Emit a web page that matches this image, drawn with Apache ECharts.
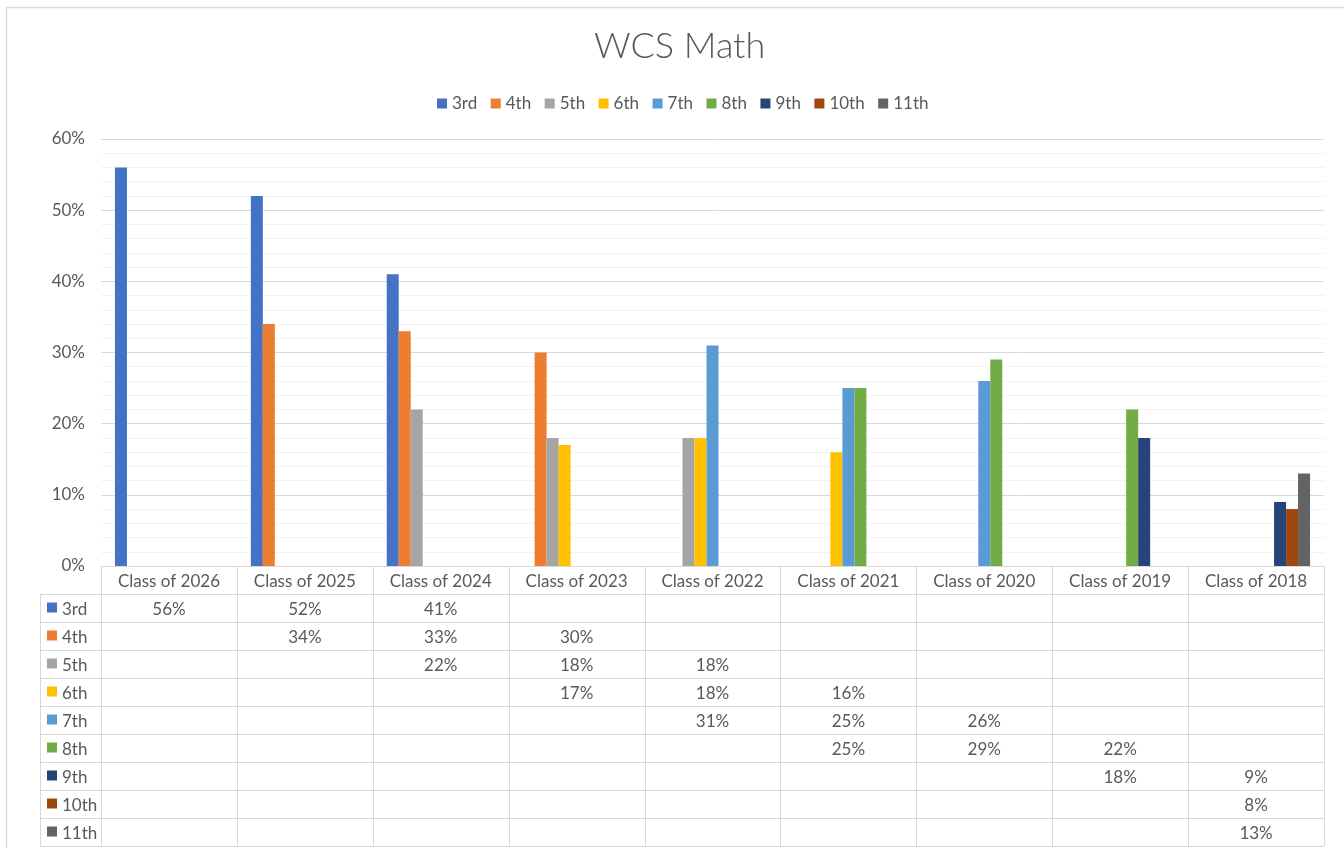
<!DOCTYPE html>
<html>
<head>
<meta charset="utf-8">
<script src="https://cdn.jsdelivr.net/npm/echarts@6/dist/echarts.min.js"></script>
<style>
  html, body { margin: 0; padding: 0; background: #fff; }
  #chart { width: 1344px; height: 848px; }
</style>
</head>
<body>
<div id="chart"></div>
<script>
// categories and series (percent values, null = no bar)
const categories = ["Class of 2026", "Class of 2025", "Class of 2024", "Class of 2023", "Class of 2022",
  "Class of 2021", "Class of 2020", "Class of 2019", "Class of 2018"];
const seriesNames = ["3rd", "4th", "5th", "6th", "7th", "8th", "9th", "10th", "11th"];
const grade3 = [56, 52, 41, null, null, null, null, null, null];
const grade4 = [null, 34, 33, 30, null, null, null, null, null];
const grade5 = [null, null, 22, 18, 18, null, null, null, null];
const grade6 = [null, null, null, 17, 18, 16, null, null, null];
const grade7 = [null, null, null, null, 31, 25, 26, null, null];
const grade8 = [null, null, null, null, null, 25, 29, 22, null];
const grade9 = [null, null, null, null, null, null, null, 18, 9];
const grade10 = [null, null, null, null, null, null, null, null, 8];
const grade11 = [null, null, null, null, null, null, null, null, 13];
const yTicks = [0, 10, 20, 30, 40, 50, 60];

const allValues = [grade3, grade4, grade5, grade6, grade7, grade8, grade9, grade10, grade11];
const colors = ["#4472C4", "#ED7D31", "#A5A5A5", "#FFC000", "#5B9BD5", "#70AD47", "#264478", "#9E480E", "#636363"];

const FONT = "Lato";
const FS = 17;
const TXT = "#595959";
const LINE = "#D9D9D9";

// layout
const plotLeft = 101, plotRight = 1324, plotTop = 139, plotBottom = 566;
const tableLeft = 40, rowH = 28;

const chart = echarts.init(document.getElementById("chart"));

const seriesArr = seriesNames.map((name, i) => ({
  name: name,
  type: "bar",
  data: allValues[i],
  barWidth: 12,
  barGap: "0%",
  itemStyle: { color: colors[i] },
}));

// data table drawn as graphic elements
function buildTable() {
  const els = [];
  const cw = (plotRight - plotLeft) / categories.length;
  const nRows = seriesNames.length;
  const tableBottom = plotBottom + rowH * (nRows + 1);
  // horizontal lines
  els.push({ type: "line", shape: { x1: plotLeft, y1: plotBottom + 0.5, x2: plotRight, y2: plotBottom + 0.5 }, style: { stroke: LINE, lineWidth: 1 } });
  for (let r = 1; r <= nRows + 1; r++) {
    const y = plotBottom + r * rowH + 0.5;
    els.push({ type: "line", shape: { x1: tableLeft, y1: y, x2: plotRight, y2: y }, style: { stroke: LINE, lineWidth: 1 } });
  }
  // vertical lines
  els.push({ type: "line", shape: { x1: tableLeft + 0.5, y1: plotBottom + rowH, x2: tableLeft + 0.5, y2: tableBottom }, style: { stroke: LINE, lineWidth: 1 } });
  for (let c = 0; c <= categories.length; c++) {
    const x = Math.round(plotLeft + c * cw) + 0.5;
    els.push({ type: "line", shape: { x1: x, y1: plotBottom, x2: x, y2: tableBottom }, style: { stroke: LINE, lineWidth: 1 } });
  }
  // header
  categories.forEach((cat, c) => {
    els.push({ type: "text", style: { x: plotLeft + (c + 0.5) * cw, y: plotBottom + rowH / 2 + 1.5, text: cat, align: "center", verticalAlign: "middle", fill: TXT, font: FS + "px " + FONT } });
  });
  // rows
  seriesNames.forEach((name, r) => {
    const cy = plotBottom + (r + 1.5) * rowH + 1.5;
    els.push({ type: "rect", shape: { x: 47, y: cy - 7, width: 10, height: 10 }, style: { fill: colors[r] } });
    els.push({ type: "text", style: { x: 62, y: cy, text: name, align: "left", verticalAlign: "middle", fill: TXT, font: FS + "px " + FONT } });
    allValues[r].forEach((v, c) => {
      if (v == null) return;
      els.push({ type: "text", style: { x: plotLeft + (c + 0.5) * cw, y: cy, text: v + "%", align: "center", verticalAlign: "middle", fill: TXT, font: FS + "px " + FONT } });
    });
  });
  // chart border
  els.push({ type: "rect", shape: { x: 6.5, y: 7.5, width: 1400, height: 900 }, style: { fill: "none", stroke: LINE, lineWidth: 1.5 } });
  return els;
}

const option = {
  backgroundColor: "#fff",
  animation: false,
  title: {
    text: "WCS Math",
    left: 589,
    top: 23,
    textStyle: { fontFamily: FONT, fontSize: 36, fontWeight: 300, color: TXT },
  },
  legend: {
    data: seriesNames,
    top: 90,
    left: 432,
    itemWidth: 10,
    itemHeight: 10,
    itemGap: 13.5,
    icon: "rect",
    textStyle: { fontFamily: FONT, fontSize: FS, color: TXT },
  },
  grid: {
    left: plotLeft,
    right: 1344 - plotRight,
    top: plotTop,
    bottom: 848 - plotBottom,
    containLabel: false,
  },
  xAxis: {
    type: "category",
    data: categories,
    axisLine: { show: false },
    axisTick: { show: false },
    axisLabel: { show: false },
  },
  yAxis: {
    type: "value",
    min: yTicks[0],
    max: yTicks[yTicks.length - 1],
    interval: 10,
    axisLine: { show: false },
    axisTick: { show: false },
    axisLabel: { formatter: "{value}%", color: TXT, fontFamily: FONT, fontSize: FS, margin: 16 },
    splitLine: { lineStyle: { color: LINE, width: 1 } },
    minorTick: { show: false, splitNumber: 5 },
    minorSplitLine: { show: true, lineStyle: { color: "#F2F2F2", width: 1 } },
  },
  series: seriesArr,
  graphic: buildTable(),
};

chart.setOption(option);
</script>
</body>
</html>
